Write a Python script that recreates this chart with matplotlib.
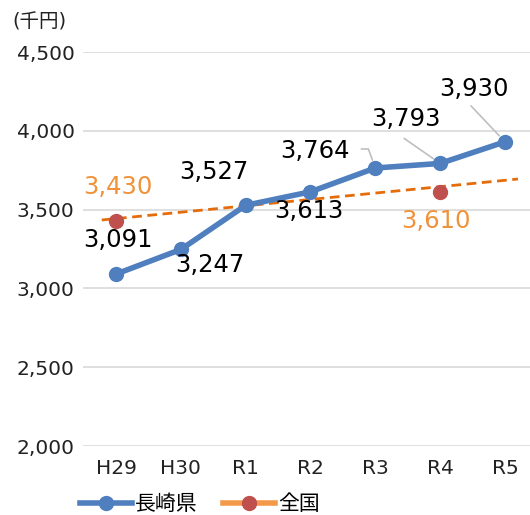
import matplotlib
matplotlib.use("Agg")
import matplotlib.pyplot as plt
from matplotlib.lines import Line2D

# DejaVu for the digits (wide, Meiryo-like), CJK font for the kanji
plt.rcParams['font.family'] = ['DejaVu Sans', 'Noto Sans CJK JP']

years = ['H29', 'H30', 'R1', 'R2', 'R3', 'R4', 'R5']
nagasaki = [3091, 3247, 3527, 3613, 3764, 3793, 3930]
zenkoku_idx = [0, 5]
zenkoku = [3430, 3610]
trend_x = [-0.22, 6.2]
trend_y = [3434, 3694]

BLUE = '#4F7FBE'
ORANGE_TXT = '#F0923A'
ORANGE_LINE = '#E46C0A'
RED = '#C0504D'

fig = plt.figure(figsize=(5.3, 5.15), dpi=100)
ax = fig.add_axes([83 / 530, 1 - 446 / 515, 447 / 530, 394 / 515])

x = list(range(len(years)))
ax.plot(trend_x, trend_y, color=ORANGE_LINE, lw=2, ls=(0, (3.5, 2)), zorder=2)
ax.plot(x, nagasaki, color=BLUE, lw=4, marker='o', ms=10, zorder=3)
ax.plot(zenkoku_idx, zenkoku, ls='none', marker='o', ms=10, color=RED, zorder=4)

ax.set_xlim(-0.509, 6.386)
ax.set_ylim(2000, 4500)
ax.set_yticks(range(2000, 4501, 500))
ax.set_yticklabels([f'{v:,}' for v in range(2000, 4501, 500)])
ax.set_xticks(x)
ax.set_xticklabels(years)
ax.tick_params(axis='both', length=0, labelsize=14.5, colors='#222222', pad=6)
ax.tick_params(axis='x', pad=9)
ax.grid(axis='y', color='#D9D9D9', lw=1.2)
ax.set_axisbelow(True)
for s in ax.spines.values():
    s.set_visible(False)

# label offsets in pixels (dx, dy) from each point
offs = [(2, 34), (29, -16), (-32, 33), (-2, -19), (-60, 17), (-34, 44), (-31, 53)]
for i, v in enumerate(nagasaki):
    ax.annotate(f'{v:,}', (i, v), xytext=offs[i], textcoords='offset pixels',
                ha='center', va='center', fontsize=17.5, color='black', zorder=5)

# leader lines
ax.annotate('', (4, nagasaki[4]), xytext=(-14, 19), textcoords='offset pixels',
            arrowprops=dict(arrowstyle='-', color='#BFBFBF', lw=1.2,
                            connectionstyle='angle,angleA=0,angleB=110,rad=0',
                            shrinkA=0, shrinkB=6))
ax.annotate('', (5, nagasaki[5]), xytext=(-36, 25), textcoords='offset pixels',
            arrowprops=dict(arrowstyle='-', color='#BFBFBF', lw=1.2, shrinkA=0, shrinkB=6))
ax.annotate('', (6, nagasaki[6]), xytext=(-34, 36), textcoords='offset pixels',
            arrowprops=dict(arrowstyle='-', color='#BFBFBF', lw=1.2, shrinkA=0, shrinkB=6))

zoffs = [(2, 34), (-4, -29)]
for i, v, o in zip(zenkoku_idx, zenkoku, zoffs):
    ax.annotate(f'{v:,}', (i, v), xytext=o, textcoords='offset pixels',
                ha='center', va='center', fontsize=17.5, color=ORANGE_TXT, zorder=5)

fig.text(12 / 530, 1 - 22 / 515, '(千円)', fontsize=14, va='center', ha='left', color='#222222')

handles = [
    Line2D([], [], color=BLUE, lw=4, marker='o', ms=10),
    Line2D([], [], color='#F39A4A', lw=4, marker='o', ms=10, markerfacecolor=RED, markeredgecolor=RED),
]
fig.legend(handles, ['長崎県', '全国'], loc='center left', bbox_to_anchor=(80 / 530, 1 - 504 / 515),
           frameon=False, fontsize=15, handlelength=2.5, handletextpad=0.15, columnspacing=1.2,
           ncol=2, borderaxespad=0, borderpad=0)

fig.savefig('out.png', dpi=100)
